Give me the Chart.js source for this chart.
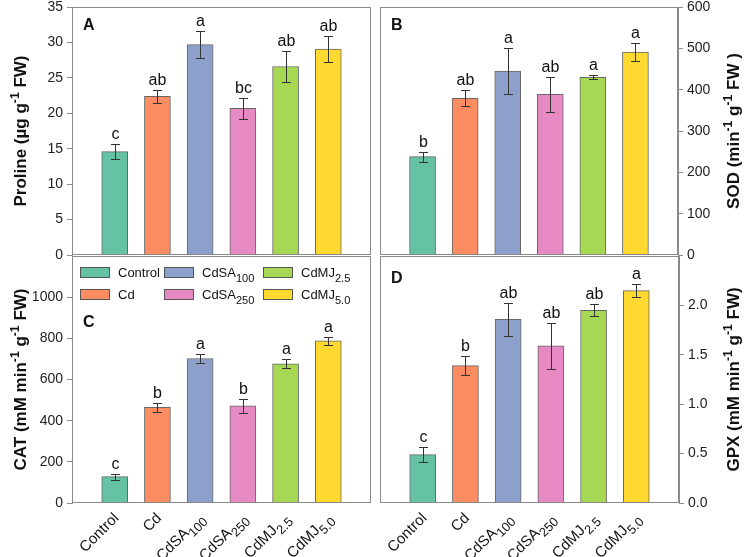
<!DOCTYPE html>
<html>
<head>
<meta charset="utf-8">
<script src="https://cdn.jsdelivr.net/npm/chart.js@4.4.1/dist/chart.umd.min.js"></script>
<style>
html,body{margin:0;padding:0;background:#fff;}
body{width:745px;height:557px;position:relative;overflow:hidden;}
canvas{position:absolute;left:0;top:0;}
</style>
</head>
<body>
<canvas id="cA" width="745" height="557"></canvas>
<canvas id="cB" width="745" height="557"></canvas>
<canvas id="cC" width="745" height="557"></canvas>
<canvas id="cD" width="745" height="557"></canvas>
<script>
// ---------------- data ----------------
const categories = ['Control', 'Cd', 'CdSA', 'CdSA', 'CdMJ', 'CdMJ'];
const categorySubscripts = ['', '', '100', '250', '2.5', '5.0'];
const categoryPositions = [1, 2, 3, 4, 5, 6];
const barColors = ['#66C2A5', '#FC8D62', '#8DA0CB', '#E78AC3', '#A6D854', '#FFD92F'];

const prolineMeans = [14.6, 22.4, 29.7, 20.7, 26.6, 29.05];
const prolineErrors = [1.1, 0.9, 1.9, 1.45, 2.25, 1.8];
const prolineLetters = ['c', 'ab', 'a', 'bc', 'ab', 'ab'];
const prolineTicks = [0, 5, 10, 15, 20, 25, 30, 35];

const sodMeans = [238, 379, 445, 389, 430, 491];
const sodErrors = [12, 19, 55, 42, 5, 21];
const sodLetters = ['b', 'ab', 'a', 'ab', 'a', 'a'];
const sodTicks = [0, 100, 200, 300, 400, 500, 600];

const catMeans = [128, 465, 702, 472, 676, 788];
const catErrors = [14, 21, 21, 33, 22, 20];
const catLetters = ['c', 'b', 'a', 'b', 'a', 'a'];
const catTicks = [0, 200, 400, 600, 800, 1000];

const gpxMeans = [0.49, 1.39, 1.86, 1.59, 1.95, 2.15];
const gpxErrors = [0.08, 0.093, 0.167, 0.233, 0.06, 0.067];
const gpxLetters = ['c', 'b', 'ab', 'ab', 'ab', 'a'];
const gpxTicks = [0, 0.5, 1.0, 1.5, 2.0];
const gpxTickLabels = ['0.0', '0.5', '1.0', '1.5', '2.0'];

// ---------------- helpers ----------------
const FONT = '"Liberation Sans", Arial, Helvetica, sans-serif';

// parts: [[text, mode]] mode 0 normal, 1 sub, 2 sup
function richWidth(ctx, parts, size, bold) {
  let w = 0;
  parts.forEach(([t, m]) => {
    const s = m === 0 ? size : size * (m === 1 ? 0.85 : 0.72);
    ctx.font = (bold ? 'bold ' : '') + s + 'px ' + FONT;
    w += ctx.measureText(t).width;
  });
  return w;
}
function drawRich(ctx, parts, x, y, size, bold, align) {
  const w = richWidth(ctx, parts, size, bold);
  let cx = align === 'right' ? x - w : (align === 'center' ? x - w / 2 : x);
  ctx.textAlign = 'left';
  ctx.textBaseline = 'alphabetic';
  parts.forEach(([t, m]) => {
    const s = m === 0 ? size : size * (m === 1 ? 0.85 : 0.72);
    const dy = m === 1 ? size * 0.35 : (m === 2 ? -size * 0.42 : 0);
    ctx.font = (bold ? 'bold ' : '') + s + 'px ' + FONT;
    ctx.fillText(t, cx, y + dy);
    cx += ctx.measureText(t).width;
  });
}
function catParts(i) {
  const p = [[categories[i], 0]];
  if (categorySubscripts[i]) p.push([categorySubscripts[i], 1]);
  return p;
}

const decor = {
  id: 'decor',
  afterDatasetsDraw(chart, args, o) {
    const ctx = chart.ctx, xs = chart.scales.x, ys = chart.scales.y, ca = chart.chartArea;
    ctx.save();
    ctx.strokeStyle = '#333';
    ctx.lineWidth = 1;
    o.means.forEach((m, i) => {
      const x = Math.round(xs.getPixelForValue(categoryPositions[i])) + 0.5;
      const yt = Math.round(ys.getPixelForValue(m + o.errors[i])) + 0.5;
      const yb = Math.round(ys.getPixelForValue(m - o.errors[i])) + 0.5;
      ctx.beginPath();
      ctx.moveTo(x, yt); ctx.lineTo(x, yb);
      ctx.moveTo(x - 4.5, yt); ctx.lineTo(x + 4.5, yt);
      ctx.moveTo(x - 4.5, yb); ctx.lineTo(x + 4.5, yb);
      ctx.stroke();
      ctx.fillStyle = '#111';
      ctx.font = '16px ' + FONT;
      ctx.textAlign = 'center';
      ctx.textBaseline = 'alphabetic';
      ctx.fillText(o.letters[i], x, yt - 6);
    });
    // frame
    ctx.strokeStyle = '#8a8a8a';
    const l = Math.round(ca.left) + 0.5, t = Math.round(ca.top) + 0.5;
    const r = Math.round(ca.right) - 0.5, b = Math.round(ca.bottom) - 0.5;
    ctx.strokeRect(l, t, r - l, b - t);
    ctx.restore();
  },
  afterDraw(chart, args, o) {
    const ctx = chart.ctx, xs = chart.scales.x, ca = chart.chartArea;
    ctx.save();
    ctx.fillStyle = '#111';
    // panel letter
    ctx.font = 'bold 16px ' + FONT;
    ctx.textAlign = 'left';
    ctx.textBaseline = 'alphabetic';
    ctx.fillText(o.panel, ca.left + 11, ca.top + o.panelDY);
    // axis title
    ctx.save();
    ctx.translate(o.titleX, (ca.top + ca.bottom) / 2);
    ctx.rotate(-Math.PI / 2);
    drawRich(ctx, o.title, 0, 6, 17, true, 'center');
    ctx.restore();
    // x labels
    if (o.xLabels) {
      categoryPositions.forEach((p, i) => {
        const x = xs.getPixelForValue(p);
        ctx.save();
        ctx.translate(x - 3, ca.bottom + 8);
        ctx.rotate(-Math.PI / 4);
        drawRich(ctx, catParts(i), 0, 11, 15, false, 'right');
        ctx.restore();
      });
    }
    // legend
    if (o.legend) {
      const colX = [80, 164, 263], rowY = [267, 289];
      categories.forEach((c, i) => {
        const col = Math.floor(i / 2), row = i % 2;
        const sx = colX[col], sy = rowY[row];
        ctx.fillStyle = barColors[i];
        ctx.fillRect(sx, sy, 30, 11);
        ctx.strokeStyle = '#555';
        ctx.lineWidth = 1;
        ctx.strokeRect(sx + 0.5, sy + 0.5, 29, 10);
        ctx.fillStyle = '#111';
        drawRich(ctx, catParts(i), sx + 38, sy + 10, 13, false, 'left');
      });
    }
    ctx.restore();
  }
};

function makePanel(id, cfg) {
  const yScale = {
    type: 'linear',
    position: cfg.yPos,
    min: 0,
    max: cfg.yMax,
    afterBuildTicks: s => { s.ticks = cfg.ticks.map(v => ({ value: v })); },
    afterFit: s => { s.width = cfg.axisWidth; s.paddingTop = 0; s.paddingBottom = 0; },
    border: { display: true, color: '#8a8a8a', width: 1 },
    grid: { display: true, drawOnChartArea: false, drawTicks: true, tickLength: 5, color: '#8a8a8a' },
    ticks: {
      color: '#222',
      font: { size: 14, family: FONT },
      padding: 4,
      callback: (v, idx) => cfg.tickLabels ? cfg.tickLabels[idx] : String(v)
    }
  };
  return new Chart(document.getElementById(id), {
    type: 'bar',
    data: {
      datasets: [{
        data: cfg.means.map((m, i) => ({ x: categoryPositions[i], y: m })),
        backgroundColor: barColors,
        borderColor: '#666',
        borderWidth: 1,
        barThickness: 26
      }]
    },
    options: {
      responsive: false,
      animation: false,
      devicePixelRatio: 1,
      layout: { padding: cfg.padding },
      plugins: {
        legend: { display: false },
        tooltip: { enabled: false },
        decor: {
          means: cfg.means, errors: cfg.errors, letters: cfg.letters,
          panel: cfg.panel, panelDY: cfg.panelDY, title: cfg.title, titleX: cfg.titleX,
          xLabels: cfg.xLabels, legend: cfg.legend
        }
      },
      scales: {
        x: { type: 'linear', min: 0, max: 7, offset: false, display: false },
        y: yScale
      }
    },
    plugins: [decor]
  });
}

makePanel('cA', {
  means: prolineMeans, errors: prolineErrors, letters: prolineLetters, ticks: prolineTicks,
  yMax: 35, yPos: 'left', axisWidth: 72,
  padding: { left: 0, right: 374, top: 7, bottom: 302 },
  panel: 'A', panelDY: 23, titleX: 20,
  title: [['Proline (µg g', 0], ['-1', 2], [' FW)', 0]]
});
makePanel('cB', {
  means: sodMeans, errors: sodErrors, letters: sodLetters, ticks: sodTicks,
  yMax: 600, yPos: 'right', axisWidth: 67,
  padding: { left: 380, right: 0, top: 7, bottom: 302 },
  panel: 'B', panelDY: 23, titleX: 733,
  title: [['SOD (min', 0], ['-1', 2], [' g', 0], ['-1', 2], [' FW )', 0]]
});
makePanel('cC', {
  means: catMeans, errors: catErrors, letters: catLetters, ticks: catTicks,
  yMax: 1200, yPos: 'left', axisWidth: 72,
  padding: { left: 0, right: 374, top: 256, bottom: 54 },
  panel: 'C', panelDY: 71, titleX: 20, xLabels: true, legend: true,
  title: [['CAT (mM min', 0], ['-1', 2], [' g', 0], ['-1', 2], [' FW)', 0]]
});
makePanel('cD', {
  means: gpxMeans, errors: gpxErrors, letters: gpxLetters, ticks: gpxTicks, tickLabels: gpxTickLabels,
  yMax: 2.5, yPos: 'right', axisWidth: 66,
  padding: { left: 380, right: 0, top: 256, bottom: 54 },
  panel: 'D', panelDY: 27, titleX: 733, xLabels: true,
  title: [['GPX (mM min', 0], ['-1', 2], [' g', 0], ['-1', 2], [' FW)', 0]]
});
</script>
</body>
</html>
